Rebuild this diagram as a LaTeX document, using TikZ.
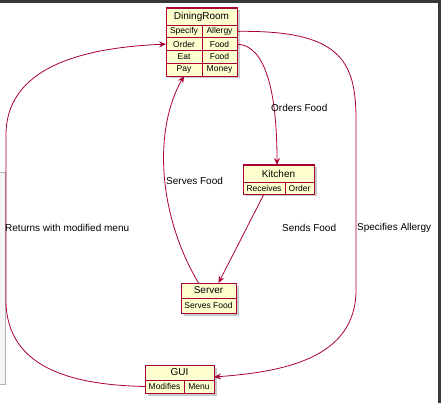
\documentclass[tikz,border=0pt]{standalone}
\usepackage{fontspec}
\setmainfont{Liberation Sans}
\usetikzlibrary{arrows.meta,shadows}
\definecolor{plum}{HTML}{A80036}
\definecolor{cream}{HTML}{FEFECE}
\begin{document}
\begin{tikzpicture}[x=1pt,y=-1pt,
box/.style={draw=plum,fill=cream,line width=1pt,inner sep=0pt,outer sep=0pt,anchor=north west,
 drop shadow={shadow xshift=2.5pt,shadow yshift=-2.5pt,opacity=.35,fill=black!60}},
cell/.style={draw=plum,fill=cream,line width=.8pt,inner sep=0pt,outer sep=0pt,anchor=north west,font=\fontsize{8.5}{10}\selectfont},
ttl/.style={cell,font=\fontsize{10}{12}\selectfont},
edge/.style={draw=plum,line width=.8pt,-{Stealth[length=7pt,width=6pt,inset=2.5pt]}},
lbl/.style={font=\fontsize{10}{12}\selectfont,anchor=west,inner sep=0pt}]
\useasboundingbox(0,0)rectangle(441,403);
% window frame
\fill[black!78](0,0)rectangle(441,3);
\fill[black!78](438,0)rectangle(441,403);
\filldraw[fill=black!4,draw=black!30](-2,172)rectangle(5,384);
% DiningRoom
\node[box,minimum width=71pt,minimum height=68pt](dining)at(166,8){};
\node[ttl,minimum width=71pt,minimum height=17pt](dt)at(166,8){DiningRoom};
\foreach\a/\b[count=\i]in{Specify/Allergy,Order/Food,Eat/Food,Pay/Money}{
\node[cell,minimum width=36pt,minimum height=12.75pt](dl\i)at(166,{25+12.75*(\i-1)}){\a};
\node[cell,minimum width=35pt,minimum height=12.75pt](dr\i)at(202,{25+12.75*(\i-1)}){\b};}
% Kitchen
\node[box,minimum width=71pt,minimum height=29pt](kitchen)at(243,165){};
\node[ttl,minimum width=71pt,minimum height=17pt](kt)at(243,165){Kitchen};
\node[cell,minimum width=42pt,minimum height=12pt](kl)at(243,182){Receives};
\node[cell,minimum width=29pt,minimum height=12pt](kr)at(285,182){Order};
% Server
\node[box,minimum width=55pt,minimum height=30pt](server)at(181,283){};
\node[ttl,minimum width=55pt,minimum height=15pt](st)at(181,283){Server};
\node[cell,minimum width=55pt,minimum height=15pt](sc)at(181,298){Serves Food};
% GUI
\node[box,minimum width=69pt,minimum height=28pt](gui)at(145,365){};
\node[ttl,minimum width=69pt,minimum height=15pt](gt)at(145,365){GUI};
\node[cell,minimum width=39pt,minimum height=13pt](gl)at(145,380){Modifies};
\node[cell,minimum width=30pt,minimum height=13pt](gr)at(184,380){Menu};
% links
\draw[edge](gl.west)..controls(80,385)and(6,372)..(6,300)--(6,135)..controls(6,60)and(100,47)..(dl2.west);
\draw[edge](dr2.east)..controls(265,45)and(277,90)..([xshift=-1.5pt]kt.north);
\draw[edge](kl.south)--([xshift=10pt]st.north);
\draw[edge]([xshift=-10pt]st.north)..controls(158,215)and(153,130)..(dl4.south);
\draw[edge](dr1.east)..controls(340,30)and(356,60)..(356,120)--(356,290)..controls(356,360)and(280,372)..([yshift=-4.5pt]gt.east);
% labels
\node[lbl](rl)at(5,228){Returns with modified menu};
\node[lbl](ol)at(271,108){Orders Food};
\node[lbl](sl)at(282,228){Sends Food};
\node[lbl](fl)at(166,181){Serves Food};
\node[lbl](al)at(357,228){Specifies Allergy};
\end{tikzpicture}
\end{document}
